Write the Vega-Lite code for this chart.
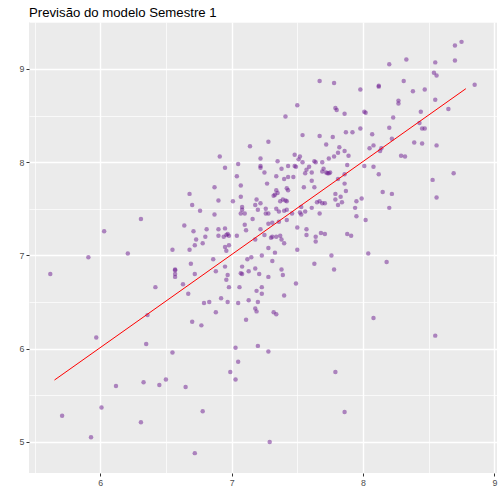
{
  "$schema": "https://vega.github.io/schema/vega-lite/v6.json",
  "width": 468,
  "height": 451,
  "autosize": "none",
  "padding": {"left": 29, "top": 22, "right": 7, "bottom": 31},
  "background": "white",
  "title": {
    "text": "Previsão do modelo Semestre 1",
    "anchor": "start",
    "frame": "group",
    "font": "Liberation Sans",
    "fontSize": 13.2,
    "fontWeight": "normal",
    "color": "black",
    "baseline": "alphabetic",
    "offset": 7,
    "dy": 19
  },
  "datasets": {
    "points": [
      {"x": 6.68, "y": 7.66}, {"x": 6.70, "y": 7.54}, {"x": 6.76, "y": 7.48}, {"x": 6.31, "y": 7.39},
      {"x": 6.64, "y": 7.32}, {"x": 6.71, "y": 7.26}, {"x": 6.03, "y": 7.26}, {"x": 6.73, "y": 7.17},
      {"x": 6.72, "y": 7.11}, {"x": 6.55, "y": 7.06}, {"x": 6.68, "y": 7.06}, {"x": 6.21, "y": 7.02},
      {"x": 5.91, "y": 6.98}, {"x": 6.69, "y": 6.91}, {"x": 6.57, "y": 6.85}, {"x": 6.57, "y": 6.84},
      {"x": 6.57, "y": 6.80}, {"x": 6.57, "y": 6.77}, {"x": 5.62, "y": 6.80}, {"x": 6.72, "y": 6.80},
      {"x": 6.42, "y": 6.66}, {"x": 6.63, "y": 6.69}, {"x": 6.67, "y": 6.59}, {"x": 6.36, "y": 6.36},
      {"x": 6.70, "y": 6.29}, {"x": 5.97, "y": 6.12}, {"x": 6.35, "y": 6.05}, {"x": 6.55, "y": 5.96},
      {"x": 6.50, "y": 5.67}, {"x": 6.33, "y": 5.64}, {"x": 6.12, "y": 5.60}, {"x": 6.45, "y": 5.61},
      {"x": 6.65, "y": 5.59}, {"x": 6.01, "y": 5.37}, {"x": 5.71, "y": 5.28}, {"x": 6.31, "y": 5.21},
      {"x": 5.93, "y": 5.05}, {"x": 6.72, "y": 4.88},
      {"x": 7.14, "y": 8.17}, {"x": 7.28, "y": 8.22}, {"x": 6.91, "y": 8.06}, {"x": 7.22, "y": 8.04},
      {"x": 7.35, "y": 8.01}, {"x": 7.05, "y": 7.98}, {"x": 6.95, "y": 7.94}, {"x": 7.22, "y": 7.96},
      {"x": 7.22, "y": 7.94}, {"x": 7.38, "y": 7.93}, {"x": 7.43, "y": 7.96}, {"x": 7.25, "y": 7.89},
      {"x": 7.04, "y": 7.85}, {"x": 7.34, "y": 7.85}, {"x": 7.40, "y": 7.82}, {"x": 7.43, "y": 7.84},
      {"x": 7.27, "y": 7.77}, {"x": 7.07, "y": 7.75}, {"x": 6.87, "y": 7.73}, {"x": 7.34, "y": 7.70},
      {"x": 7.35, "y": 7.67}, {"x": 7.33, "y": 7.65}, {"x": 7.32, "y": 7.64}, {"x": 7.42, "y": 7.72},
      {"x": 7.43, "y": 7.70}, {"x": 7.07, "y": 7.63}, {"x": 6.90, "y": 7.59}, {"x": 7.01, "y": 7.58},
      {"x": 7.19, "y": 7.60}, {"x": 7.22, "y": 7.56}, {"x": 7.39, "y": 7.60}, {"x": 7.41, "y": 7.59},
      {"x": 7.42, "y": 7.58}, {"x": 7.37, "y": 7.58}, {"x": 7.18, "y": 7.54}, {"x": 7.20, "y": 7.49},
      {"x": 7.08, "y": 7.52}, {"x": 7.08, "y": 7.49}, {"x": 7.07, "y": 7.45}, {"x": 7.10, "y": 7.45},
      {"x": 7.26, "y": 7.50}, {"x": 7.26, "y": 7.45}, {"x": 7.28, "y": 7.45}, {"x": 7.34, "y": 7.50},
      {"x": 7.36, "y": 7.47}, {"x": 7.40, "y": 7.48}, {"x": 7.42, "y": 7.49}, {"x": 6.87, "y": 7.44},
      {"x": 7.16, "y": 7.39}, {"x": 7.10, "y": 7.33}, {"x": 7.31, "y": 7.35}, {"x": 7.28, "y": 7.34},
      {"x": 7.36, "y": 7.36}, {"x": 6.81, "y": 7.28}, {"x": 6.90, "y": 7.28}, {"x": 6.95, "y": 7.29},
      {"x": 7.11, "y": 7.27}, {"x": 7.22, "y": 7.28}, {"x": 7.42, "y": 7.38}, {"x": 6.80, "y": 7.20},
      {"x": 6.90, "y": 7.21}, {"x": 6.94, "y": 7.20}, {"x": 6.96, "y": 7.22}, {"x": 6.97, "y": 7.23},
      {"x": 6.98, "y": 7.21}, {"x": 7.04, "y": 7.21}, {"x": 7.25, "y": 7.22}, {"x": 7.31, "y": 7.20},
      {"x": 7.30, "y": 7.19}, {"x": 7.34, "y": 7.20}, {"x": 7.37, "y": 7.21}, {"x": 7.18, "y": 7.17},
      {"x": 7.38, "y": 7.17}, {"x": 7.40, "y": 7.13}, {"x": 6.78, "y": 7.13}, {"x": 6.95, "y": 7.09},
      {"x": 6.98, "y": 7.11}, {"x": 6.96, "y": 7.05}, {"x": 7.28, "y": 7.08}, {"x": 7.33, "y": 7.03},
      {"x": 7.23, "y": 7.00}, {"x": 6.86, "y": 6.96}, {"x": 7.12, "y": 6.96}, {"x": 7.15, "y": 6.98},
      {"x": 7.31, "y": 6.94}, {"x": 6.95, "y": 6.88}, {"x": 7.08, "y": 6.88}, {"x": 7.18, "y": 6.86},
      {"x": 7.38, "y": 6.85}, {"x": 6.88, "y": 6.83}, {"x": 7.13, "y": 6.83}, {"x": 7.07, "y": 6.81},
      {"x": 7.08, "y": 6.80}, {"x": 7.21, "y": 6.80}, {"x": 6.97, "y": 6.79}, {"x": 6.96, "y": 6.74},
      {"x": 7.28, "y": 6.77}, {"x": 7.39, "y": 6.79}, {"x": 6.98, "y": 6.66}, {"x": 7.06, "y": 6.66},
      {"x": 7.23, "y": 6.66}, {"x": 7.19, "y": 6.62}, {"x": 7.23, "y": 6.59}, {"x": 7.40, "y": 6.57},
      {"x": 6.92, "y": 6.54}, {"x": 7.13, "y": 6.52}, {"x": 7.20, "y": 6.50}, {"x": 6.79, "y": 6.49},
      {"x": 6.83, "y": 6.50}, {"x": 6.97, "y": 6.50}, {"x": 7.05, "y": 6.49}, {"x": 7.18, "y": 6.43},
      {"x": 6.88, "y": 6.39}, {"x": 7.19, "y": 6.40}, {"x": 7.32, "y": 6.39}, {"x": 7.34, "y": 6.37},
      {"x": 6.77, "y": 6.25}, {"x": 7.11, "y": 6.31}, {"x": 7.20, "y": 6.03}, {"x": 7.03, "y": 6.01},
      {"x": 7.28, "y": 5.97}, {"x": 7.05, "y": 5.86}, {"x": 6.99, "y": 5.75}, {"x": 7.03, "y": 5.67},
      {"x": 6.78, "y": 5.33}, {"x": 7.29, "y": 5.00},
      {"x": 7.72, "y": 8.19}, {"x": 7.82, "y": 8.16}, {"x": 7.86, "y": 8.12}, {"x": 7.81, "y": 8.10},
      {"x": 7.78, "y": 8.06}, {"x": 7.89, "y": 8.07}, {"x": 8.08, "y": 8.18}, {"x": 8.05, "y": 8.15},
      {"x": 8.14, "y": 8.15}, {"x": 8.13, "y": 8.12}, {"x": 7.48, "y": 8.08}, {"x": 7.52, "y": 8.06},
      {"x": 7.51, "y": 8.03}, {"x": 7.74, "y": 8.04}, {"x": 7.54, "y": 8.00}, {"x": 7.48, "y": 7.96},
      {"x": 7.49, "y": 7.95}, {"x": 7.59, "y": 7.95}, {"x": 7.63, "y": 8.01}, {"x": 7.64, "y": 8.00},
      {"x": 7.69, "y": 8.00}, {"x": 7.88, "y": 7.97}, {"x": 8.01, "y": 7.96}, {"x": 8.08, "y": 7.95},
      {"x": 7.57, "y": 7.92}, {"x": 7.56, "y": 7.88}, {"x": 7.61, "y": 7.89}, {"x": 7.70, "y": 7.93},
      {"x": 7.69, "y": 7.90}, {"x": 7.72, "y": 7.89}, {"x": 7.73, "y": 7.88}, {"x": 7.74, "y": 7.88},
      {"x": 7.75, "y": 7.89}, {"x": 7.86, "y": 7.87}, {"x": 8.12, "y": 7.87}, {"x": 7.47, "y": 7.84},
      {"x": 7.61, "y": 7.80}, {"x": 7.81, "y": 7.82}, {"x": 7.86, "y": 7.77}, {"x": 7.55, "y": 7.73},
      {"x": 7.63, "y": 7.73}, {"x": 7.87, "y": 7.69}, {"x": 7.79, "y": 7.66}, {"x": 7.83, "y": 7.63},
      {"x": 8.15, "y": 7.68}, {"x": 8.22, "y": 7.66}, {"x": 7.79, "y": 7.60}, {"x": 7.84, "y": 7.57},
      {"x": 7.81, "y": 7.54}, {"x": 7.95, "y": 7.58}, {"x": 7.99, "y": 7.61}, {"x": 7.67, "y": 7.58},
      {"x": 7.65, "y": 7.57}, {"x": 7.69, "y": 7.56}, {"x": 7.71, "y": 7.56}, {"x": 7.61, "y": 7.51},
      {"x": 7.53, "y": 7.52}, {"x": 7.94, "y": 7.51}, {"x": 8.20, "y": 7.51}, {"x": 7.46, "y": 7.45},
      {"x": 7.52, "y": 7.46}, {"x": 7.53, "y": 7.44}, {"x": 7.56, "y": 7.47}, {"x": 7.67, "y": 7.45},
      {"x": 7.95, "y": 7.42}, {"x": 8.02, "y": 7.38}, {"x": 7.50, "y": 7.30}, {"x": 7.57, "y": 7.28},
      {"x": 7.57, "y": 7.22}, {"x": 7.68, "y": 7.24}, {"x": 7.71, "y": 7.23}, {"x": 7.88, "y": 7.23},
      {"x": 7.91, "y": 7.21}, {"x": 7.64, "y": 7.20}, {"x": 7.64, "y": 7.15}, {"x": 7.50, "y": 7.06},
      {"x": 7.76, "y": 7.00}, {"x": 8.04, "y": 7.02}, {"x": 8.18, "y": 6.93}, {"x": 7.63, "y": 6.91},
      {"x": 7.78, "y": 6.85}, {"x": 7.49, "y": 6.70}, {"x": 8.08, "y": 6.33}, {"x": 7.79, "y": 5.75},
      {"x": 7.86, "y": 5.32},
      {"x": 8.39, "y": 8.21}, {"x": 8.45, "y": 8.20}, {"x": 8.56, "y": 8.18}, {"x": 8.29, "y": 8.07},
      {"x": 8.32, "y": 8.06}, {"x": 8.69, "y": 7.88}, {"x": 8.53, "y": 7.81}, {"x": 8.56, "y": 7.62},
      {"x": 8.55, "y": 6.14},
      {"x": 7.67, "y": 8.87}, {"x": 7.78, "y": 8.85}, {"x": 7.50, "y": 8.61}, {"x": 7.79, "y": 8.58},
      {"x": 7.80, "y": 8.56}, {"x": 7.41, "y": 8.49}, {"x": 7.54, "y": 8.29}, {"x": 7.67, "y": 8.28},
      {"x": 7.77, "y": 8.27},
      {"x": 8.75, "y": 9.29}, {"x": 8.70, "y": 9.25}, {"x": 8.20, "y": 9.05}, {"x": 8.33, "y": 9.10},
      {"x": 8.55, "y": 9.07}, {"x": 8.70, "y": 9.09}, {"x": 8.54, "y": 8.96}, {"x": 8.56, "y": 8.93},
      {"x": 8.31, "y": 8.87}, {"x": 8.12, "y": 8.82}, {"x": 8.12, "y": 8.81}, {"x": 7.98, "y": 8.78},
      {"x": 8.38, "y": 8.76}, {"x": 8.47, "y": 8.78}, {"x": 8.85, "y": 8.83}, {"x": 8.27, "y": 8.66},
      {"x": 8.27, "y": 8.63}, {"x": 8.55, "y": 8.67}, {"x": 7.86, "y": 8.52}, {"x": 8.01, "y": 8.54},
      {"x": 8.02, "y": 8.53}, {"x": 8.44, "y": 8.54}, {"x": 8.65, "y": 8.57}, {"x": 8.23, "y": 8.48},
      {"x": 8.43, "y": 8.42}, {"x": 8.20, "y": 8.37}, {"x": 8.45, "y": 8.36}, {"x": 8.47, "y": 8.36},
      {"x": 7.98, "y": 8.36}, {"x": 7.87, "y": 8.32}, {"x": 7.92, "y": 8.32}, {"x": 8.07, "y": 8.30},
      {"x": 8.22, "y": 8.25}
    ],
    "fit": [
      {"x": 5.652, "y": 5.664},
      {"x": 8.783, "y": 8.788}
    ]
  },
  "encoding": {
    "x": {
      "field": "x",
      "type": "quantitative",
      "scale": {"domain": [5.458, 9.02], "nice": false, "zero": false},
      "axis": {
        "title": null,
        "values": [5.5, 6, 6.5, 7, 7.5, 8, 8.5, 9],
        "labelExpr": "datum.value % 1 == 0 ? format(datum.value, 'd') : ''",
        "domain": false,
        "grid": true,
        "gridColor": "white",
        "gridOpacity": 1,
        "gridWidth": {"condition": {"test": "datum.value % 1 == 0", "value": 1.4}, "value": 0.7},
        "tickColor": {"condition": {"test": "datum.value % 1 == 0", "value": "#333333"}, "value": "transparent"},
        "tickSize": 3,
        "tickWidth": 1,
        "labelPadding": 2,
        "labelFont": "Liberation Sans",
        "labelFontSize": 8.8,
        "labelColor": "#4D4D4D",
        "labelOverlap": false,
        "labelFlush": false
      }
    },
    "y": {
      "field": "y",
      "type": "quantitative",
      "scale": {"domain": [4.667, 9.503], "nice": false, "zero": false},
      "axis": {
        "title": null,
        "values": [5, 5.5, 6, 6.5, 7, 7.5, 8, 8.5, 9, 9.5],
        "labelExpr": "datum.value % 1 == 0 ? format(datum.value, 'd') : ''",
        "domain": false,
        "grid": true,
        "gridColor": "white",
        "gridOpacity": 1,
        "gridWidth": {"condition": {"test": "datum.value % 1 == 0", "value": 1.4}, "value": 0.7},
        "tickColor": {"condition": {"test": "datum.value % 1 == 0", "value": "#333333"}, "value": "transparent"},
        "tickSize": 3,
        "tickWidth": 1,
        "labelPadding": 2,
        "labelFont": "Liberation Sans",
        "labelFontSize": 8.8,
        "labelColor": "#4D4D4D",
        "labelOverlap": false,
        "labelFlush": false
      }
    }
  },
  "layer": [
    {
      "data": {"name": "points"},
      "mark": {"type": "point", "filled": true, "size": 20, "color": "#6B1A8F", "opacity": 0.5, "strokeWidth": 0}
    },
    {
      "data": {"name": "fit"},
      "mark": {"type": "line", "color": "red", "strokeWidth": 1}
    }
  ],
  "config": {
    "view": {"fill": "#EBEBEB", "stroke": null}
  }
}
